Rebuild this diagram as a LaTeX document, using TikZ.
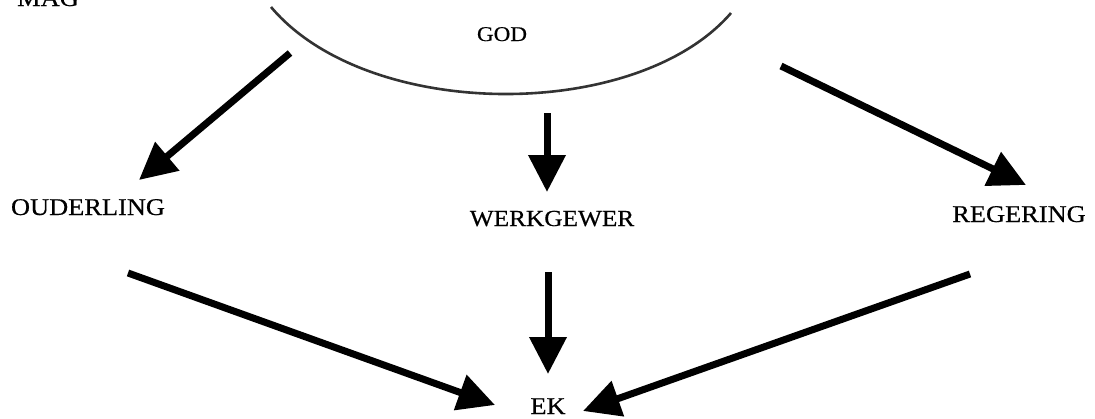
\documentclass[tikz,border=0pt]{standalone}
\usepackage{fontspec}
\setmainfont[FakeStretch=1.1,FakeBold=0.5]{Liberation Serif}
\usetikzlibrary{arrows.meta}
\begin{document}
\begin{tikzpicture}[x=1pt,y=-1pt,
  lbl/.style={inner sep=0pt,font=\fontsize{24}{28}\selectfont},
  bigarrow/.style={line width=7pt,-{Triangle[length=37pt,width=36pt]}}]
\useasboundingbox (0,0) rectangle (1095,418);
% labels
\node[lbl,anchor=base west] (mag) at (17,6) {MAG};
\node[lbl,anchor=base,font=\fontsize{21}{25}\selectfont] (god) at (502,41) {GOD};
\node[lbl,anchor=base] (oud) at (88,215) {OUDERLING};
\node[lbl,anchor=base,font=\fontsize{23}{27}\selectfont] (werk) at (552,226) {WERKGEWER};
\node[lbl,anchor=base] (reg) at (1019,222) {REGERING};
\node[lbl,anchor=base] (ek) at (548,414) {EK};
% arc
\draw[line width=2.6pt,color=black!80] (271,7) .. controls (368,122) and (637,122) .. (731,13);
% arrow end points
\coordinate (a1s) at (290,53);  \coordinate (a1e) at (139,180);
\coordinate (a2s) at (547,113); \coordinate (a2e) at (547,192);
\coordinate (a3s) at (781,66);  \coordinate (a3e) at (1026,185);
\coordinate (a4s) at (128,273); \coordinate (a4e) at (495,405);
\coordinate (a5s) at (548,272); \coordinate (a5e) at (548,374);
\coordinate (a6s) at (970,274); \coordinate (a6e) at (583,411);
\draw[bigarrow] (a1s) -- (a1e);
\draw[bigarrow] (a2s) -- (a2e);
\draw[bigarrow] (a3s) -- (a3e);
\draw[bigarrow] (a4s) -- (a4e);
\draw[bigarrow] (a5s) -- (a5e);
\draw[bigarrow] (a6s) -- (a6e);
\end{tikzpicture}
\end{document}
